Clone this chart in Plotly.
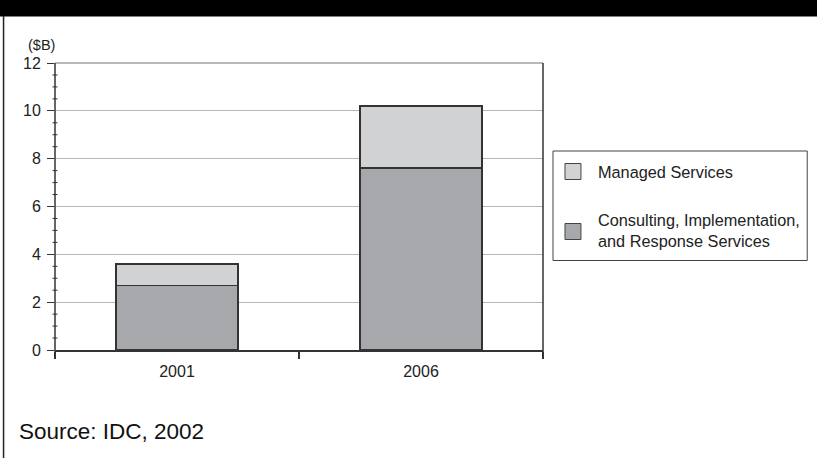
import plotly.graph_objects as go

years = ["2001", "2006"]
consulting = [2.7, 7.6]
managed = [0.9, 2.6]
series_names = ["Consulting, Implementation,<br>and Response Services", "Managed Services"]
y_ticks = [0, 2, 4, 6, 8, 10, 12]

W, H = 817, 458
L, R, T, B = 55, 543.5, 63, 350
pw, ph = R - L, B - T

def px(x):
    return (x - L) / pw

def py(y):
    return (B - y) / ph

C_CONS = "#a7a8ab"
C_MAN = "#d1d2d4"
C_EDGE = "#333333"
FONT = "Liberation Sans, Arial, sans-serif"

fig = go.Figure()
fig.add_trace(go.Bar(x=years, y=consulting, name=series_names[0], width=0.5,
                     marker=dict(color=C_CONS, line=dict(color=C_EDGE, width=1.5)),
                     showlegend=False))
fig.add_trace(go.Bar(x=years, y=managed, name=series_names[1], width=0.5,
                     marker=dict(color=C_MAN, line=dict(color=C_EDGE, width=1.5)),
                     showlegend=False))

shapes = []
# top black band
shapes.append(dict(type="rect", xref="paper", yref="paper", x0=px(-5), x1=px(W + 5),
                   y0=py(16.5), y1=py(-5), fillcolor="black", line=dict(width=0), layer="above"))
# left border
shapes.append(dict(type="line", xref="paper", yref="paper", x0=px(3.5), x1=px(3.5),
                   y0=py(16), y1=py(H + 5), line=dict(color="#222", width=1.5)))
# top gridline
shapes.append(dict(type="line", xref="paper", yref="paper", x0=0, x1=1,
                   y0=1, y1=1, line=dict(color="#a0a0a0", width=1.5), layer="above"))
# y axis line with extension below 0
shapes.append(dict(type="line", xref="paper", yref="paper", x0=0, x1=0,
                   y0=py(357), y1=1, line=dict(color=C_EDGE, width=1.5), layer="above"))
# right line
shapes.append(dict(type="line", xref="paper", yref="paper", x0=1, x1=1,
                   y0=py(357), y1=1, line=dict(color=C_EDGE, width=1.5), layer="above"))
# minor ticks crossing the y axis
for i in range(0, 25):
    v = i * 0.5
    if abs(v % 2) < 1e-9:
        continue
    shapes.append(dict(type="line", xref="paper", yref="y", x0=px(L - 2.5), x1=px(L + 2.5),
                       y0=v, y1=v, line=dict(color=C_EDGE, width=1), layer="above"))

# legend box
lx0, lx1, ly0, ly1 = 553.5, 808, 151, 260.5
shapes.append(dict(type="rect", xref="paper", yref="paper", x0=px(lx0), x1=px(lx1),
                   y0=py(ly1), y1=py(ly0), line=dict(color="#444", width=1), fillcolor="white"))
sw = [(163.5, C_MAN), (223.5, C_CONS)]
for ytop, col in sw:
    shapes.append(dict(type="rect", xref="paper", yref="paper", x0=px(565.5), x1=px(581.5),
                       y0=py(ytop + 16), y1=py(ytop), line=dict(color="#444", width=1), fillcolor=col))

annotations = [
    dict(text="($B)", xref="paper", yref="paper", x=px(26), y=py(45), xanchor="left", yanchor="middle",
         showarrow=False, font=dict(size=14.5, color="#222", family=FONT)),
    dict(text=series_names[1], xref="paper", yref="paper", x=px(597), y=py(172), xanchor="left",
         yanchor="middle", showarrow=False, font=dict(size=16.3, color="#222", family=FONT)),
    dict(text=series_names[0], xref="paper", yref="paper", x=px(597), y=py(230), xanchor="left",
         yanchor="middle", align="left", showarrow=False, font=dict(size=16.3, color="#222", family=FONT)),
    dict(text="Source: IDC, 2002", xref="paper", yref="paper", x=px(17), y=py(432), xanchor="left",
         yanchor="middle", showarrow=False, font=dict(size=22.5, color="#111", family=FONT)),
]

fig.update_layout(
    width=W, height=H, barmode="stack",
    margin=dict(l=L, r=W - R, t=T, b=H - B, pad=0),
    paper_bgcolor="white", plot_bgcolor="white",
    font=dict(family=FONT, size=16, color="#222"),
    shapes=shapes, annotations=annotations, showlegend=False,
    xaxis=dict(type="category", tickson="boundaries", ticks="outside", ticklen=7, tickwidth=1.5,
               tickcolor=C_EDGE, showline=True, linecolor=C_EDGE, linewidth=1.5, showgrid=False,
               tickfont=dict(size=16, color="#222", family=FONT), range=[-0.5, 1.5], zeroline=False,
               ticklabelstandoff=6),
    yaxis=dict(range=[0, 12], tickvals=y_ticks, ticks="outside", ticklen=7, tickwidth=1,
               tickcolor=C_EDGE, showline=False, showgrid=True, gridcolor="#b5b5b5", gridwidth=1,
               zeroline=False, tickfont=dict(size=16, color="#222", family=FONT),
               ticklabelstandoff=3),
)

fig.write_html("out.html")
